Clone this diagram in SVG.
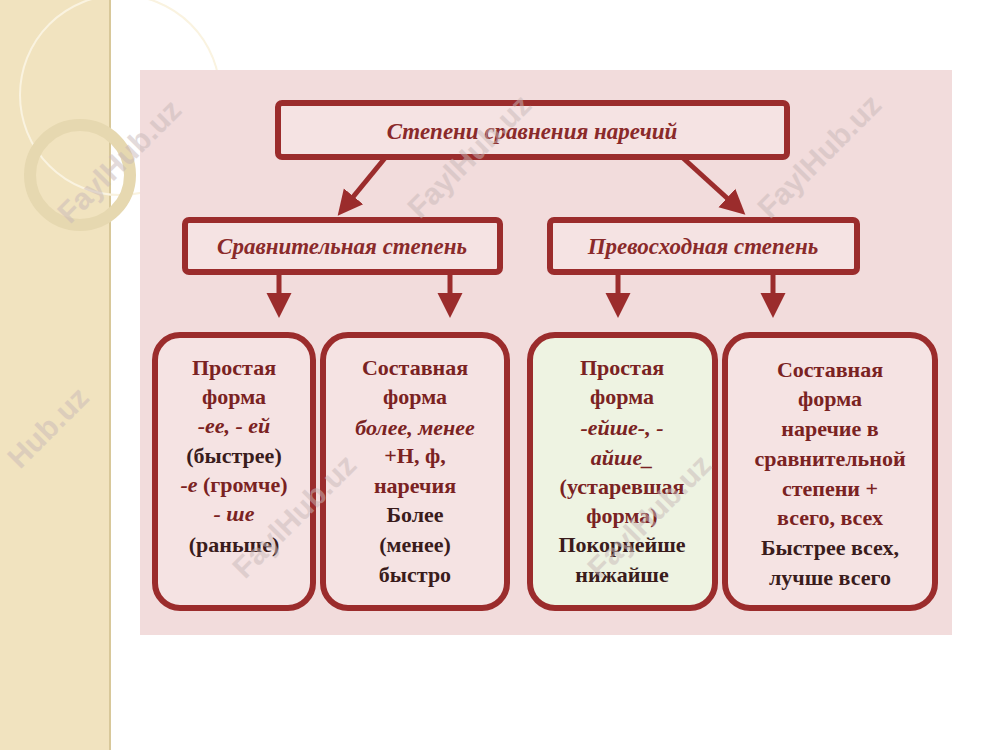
<svg xmlns="http://www.w3.org/2000/svg" width="1000" height="750" viewBox="0 0 1000 750">
<defs>
<marker id="ah" markerWidth="6" markerHeight="6" refX="3" refY="3" orient="auto" markerUnits="strokeWidth"><path d="M0,0.5 L5,3 L0,5.5 z" fill="#9b2c2c"/></marker>
<style>
.b{fill:#f5e3e3;stroke:#9b2c2c;stroke-width:6}
.t{font-family:"Liberation Serif",serif;font-weight:bold;font-size:22px;text-anchor:middle}
.h{font-family:"Liberation Serif",serif;font-weight:bold;font-style:italic;font-size:23px;text-anchor:middle;fill:#8a2a2a}
.r{fill:#7a2222}.d{fill:#3a1c1c}.i{font-style:italic;fill:#7a2222}
.c{stroke:#9b2c2c;stroke-width:5;fill:none;marker-end:url(#ah)}
.w{font-family:"Liberation Sans",sans-serif;font-weight:bold;font-size:30px;fill:#c8b8b8;opacity:0.5}
</style>
</defs>
<rect width="1000" height="750" fill="#ffffff"/>
<rect x="0" y="0" width="110" height="750" fill="#f1e3bf"/>
<line x1="110" y1="0" x2="110" y2="750" stroke="#d8c89a" stroke-width="2"/>
<circle cx="120" cy="95" r="100" fill="none" stroke="#faf3e0" stroke-width="2"/>
<circle cx="80" cy="175" r="50" fill="none" stroke="#e6d8b0" stroke-width="12"/>
<rect x="140" y="70" width="812" height="565" fill="#f2dcdc"/>
<g id="n0"><rect class="b" x="278" y="103" width="509" height="54" rx="4"/><text class="h" x="532" y="139">Степени сравнения наречий</text></g>
<g id="n1"><rect class="b" x="185" y="220" width="315" height="52" rx="4"/><text class="h" x="342" y="254">Сравнительная степень</text></g>
<g id="n2"><rect class="b" x="550" y="220" width="307" height="52" rx="4"/><text class="h" x="703" y="254">Превосходная степень</text></g>
<g id="n3"><rect class="b" x="155" y="335" width="158" height="273" rx="25"/>
<text class="t"><tspan class="r" x="234" y="375">Простая</tspan><tspan class="r" x="234" y="404">форма</tspan><tspan class="i" x="234" y="433">-ее, - ей</tspan><tspan class="d" x="234" y="463">(быстрее)</tspan><tspan x="234" y="492"><tspan class="i">-е</tspan><tspan class="r"> (громче)</tspan></tspan><tspan class="i" x="234" y="521">- ше</tspan><tspan class="d" x="234" y="552">(раньше)</tspan></text></g>
<g id="n4"><rect class="b" x="323" y="335" width="184" height="273" rx="25"/>
<text class="t"><tspan class="r" x="415" y="375">Составная</tspan><tspan class="r" x="415" y="404">форма</tspan><tspan class="i" x="415" y="435">более, менее</tspan><tspan class="r" x="415" y="463">+Н, ф,</tspan><tspan class="r" x="415" y="493">наречия</tspan><tspan class="d" x="415" y="522">Более</tspan><tspan class="d" x="415" y="552">(менее)</tspan><tspan class="d" x="415" y="582">быстро</tspan></text></g>
<g id="n5"><rect class="b" x="530" y="335" width="185" height="273" rx="25" style="fill:#eef3e2"/>
<text class="t"><tspan class="r" x="622" y="375">Простая</tspan><tspan class="r" x="622" y="404">форма</tspan><tspan class="i" x="622" y="435">-ейше-, -</tspan><tspan class="i" x="622" y="465">айше_</tspan><tspan class="r" x="622" y="494">(устаревшая</tspan><tspan class="r" x="622" y="523">форма)</tspan><tspan class="d" x="622" y="552">Покорнейше</tspan><tspan class="d" x="622" y="582">нижайше</tspan></text></g>
<g id="n6"><rect class="b" x="725" y="335" width="210" height="273" rx="25"/>
<text class="t"><tspan class="r" x="830" y="377">Составная</tspan><tspan class="r" x="830" y="406">форма</tspan><tspan class="r" x="830" y="436">наречие в</tspan><tspan class="r" x="830" y="466">сравнительной</tspan><tspan class="r" x="830" y="496">степени +</tspan><tspan class="r" x="830" y="525">всего, всех</tspan><tspan class="d" x="830" y="555">Быстрее всех,</tspan><tspan class="d" x="830" y="585">лучше всего</tspan></text></g>
<g id="connectors">
<line class="c" x1="385" y1="158" x2="344" y2="208"/>
<line class="c" x1="683" y1="158" x2="738" y2="208"/>
<line class="c" x1="279" y1="273" x2="279" y2="308"/>
<line class="c" x1="450" y1="273" x2="450" y2="308"/>
<line class="c" x1="618" y1="273" x2="618" y2="308"/>
<line class="c" x1="773" y1="273" x2="773" y2="308"/>
</g>
<g>
<text class="w" transform="translate(70,225) rotate(-45)">FaylHub.uz</text>
<text class="w" transform="translate(420,220) rotate(-45)">FaylHub.uz</text>
<text class="w" transform="translate(770,220) rotate(-45)">FaylHub.uz</text>
<text class="w" transform="translate(20,470) rotate(-45)">Hub.uz</text>
<text class="w" transform="translate(245,580) rotate(-45)">FaylHub.uz</text>
<text class="w" transform="translate(600,580) rotate(-45)">FaylHub.uz</text>
</g>
</svg>
